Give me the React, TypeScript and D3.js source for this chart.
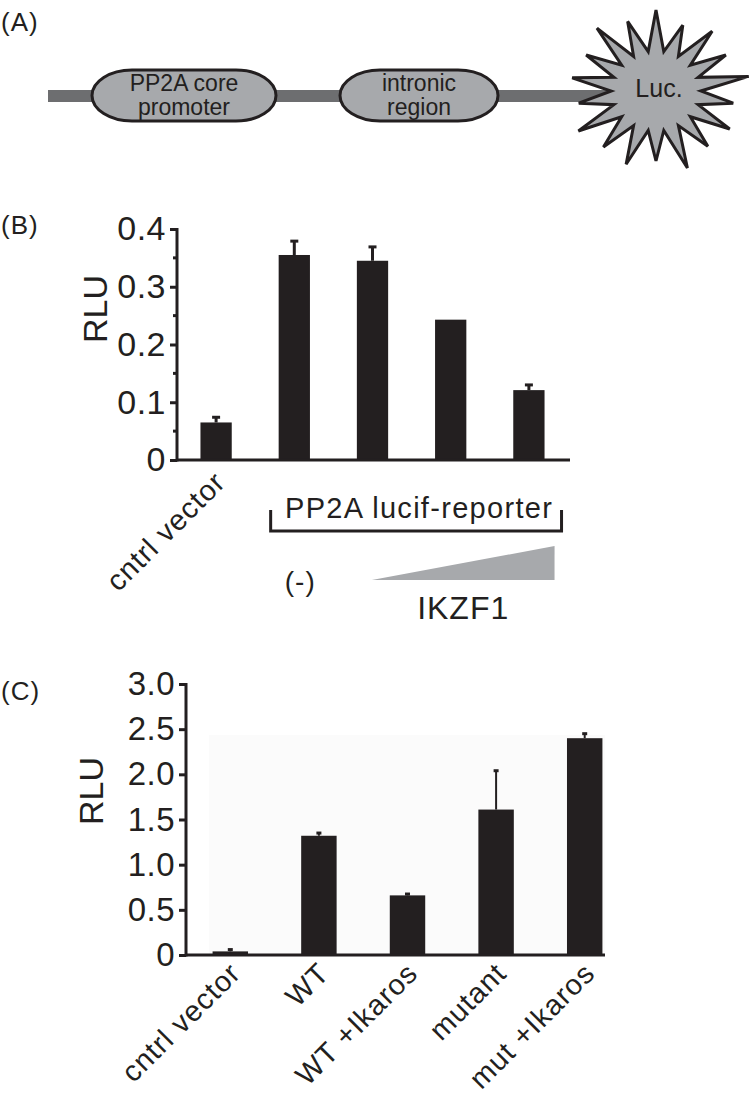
import React, { useEffect, useRef } from 'react';
import * as d3 from 'd3';

// panel B
const categoriesB = ['cntrl vector', '(-)', 'IKZF1 low', 'IKZF1 mid', 'IKZF1 high'];
const valuesB = [0.065, 0.355, 0.345, 0.243, 0.121];
const errorsB = [0.009, 0.024, 0.024, 0, 0.009];
const ticksB = [0, 0.1, 0.2, 0.3, 0.4];
const minorTicksB = [0.05, 0.15, 0.25, 0.35];

// panel C
const categoriesC = ['cntrl vector', 'WT', 'WT +Ikaros', 'mutant', 'mut +Ikaros'];
const valuesC = [0.04, 1.32, 0.66, 1.61, 2.4];
const errorsC = [0.02, 0.03, 0.015, 0.43, 0.05];
const ticksC = [0, 0.5, 1.0, 1.5, 2.0, 2.5, 3.0];

// panel A construct
const constructParts = [
  { lines: ['PP2A core', 'promoter'], cx: 184, w: 184 },
  { lines: ['intronic', 'region'], cx: 419, w: 158 },
];
const starRadii = [81, 70, 78, 72, 84, 70, 76, 72, 82, 70, 78, 73, 80, 70, 76, 72, 82, 74];

const INK = '#231f20';
const GREY = '#a7a9ac';
const FONT = 'Liberation Sans, Arial, sans-serif';

const App = () => {
  const ref = useRef<SVGSVGElement | null>(null);

  useEffect(() => {
    const svg = d3.select(ref.current);
    svg.selectAll('*').remove();

    const label = (x: number, y: number, t: string, size: number, spacing = 0) =>
      svg.append('text').attr('x', x).attr('y', y).attr('font-size', size).attr('font-family', FONT)
        .attr('letter-spacing', spacing).attr('fill', INK).text(t);

    // faint plot background of panel C
    svg.append('rect').attr('x', 209).attr('y', 735).attr('width', 396).attr('height', 220).attr('fill', '#fbfbfb');

    // ---------- (A) ----------
    label(1, 31, '(A)', 26, 1);

    svg.append('rect').attr('x', 48).attr('y', 90).attr('width', 560).attr('height', 12).attr('fill', '#6d6e70');

    constructParts.forEach((p) => {
      svg
        .append('rect')
        .attr('x', p.cx - p.w / 2)
        .attr('y', 70)
        .attr('width', p.w)
        .attr('height', 51)
        .attr('rx', 40)
        .attr('ry', 25.5)
        .attr('fill', GREY)
        .attr('stroke', INK)
        .attr('stroke-width', 3);
      p.lines.forEach((l, i) => {
        label(p.cx, 91 + i * 24, l, 23).attr('text-anchor', 'middle');
      });
    });

    // luciferase star
    const n = starRadii.length;
    const starPts: [number, number][] = [];
    starRadii.forEach((r, i) => {
      const a0 = (i / n) * 2 * Math.PI - Math.PI / 2;
      const a1 = ((i + 0.5) / n) * 2 * Math.PI - Math.PI / 2;
      starPts.push([Math.cos(a0) * r * 1.12, Math.sin(a0) * r]);
      starPts.push([Math.cos(a1) * 40 * 1.12, Math.sin(a1) * 40]);
    });
    svg
      .append('path')
      .attr('transform', 'translate(656,91)')
      .attr('d', d3.line()(starPts) + 'Z')
      .attr('fill', GREY)
      .attr('stroke', INK)
      .attr('stroke-width', 3)
      .attr('stroke-linejoin', 'miter');
    label(659, 97, 'Luc.', 25).attr('text-anchor', 'middle');

    // ---------- bar chart helper ----------
    const drawBars = (cfg: {
      cats: string[];
      vals: number[];
      errs: number[];
      ticks: number[];
      minor: number[];
      x0: number;
      x1: number;
      y0: number;
      y1: number;
      max: number;
      tickFont: number;
      errW: number;
      capW: number;
      baseEnd: number;
    }) => {
      const x = d3.scaleBand<string>().domain(cfg.cats).range([cfg.x0, cfg.x1]).paddingInner(0.6).paddingOuter(0.3);
      const y = d3.scaleLinear().domain([0, cfg.max]).range([cfg.y0, cfg.y1]);
      const g = svg.append('g');

      g.selectAll('rect.bar')
        .data(cfg.vals)
        .join('rect')
        .attr('x', (_, i) => x(cfg.cats[i])!)
        .attr('y', (d) => y(d))
        .attr('width', x.bandwidth())
        .attr('height', (d) => y(0) - y(d))
        .attr('fill', INK);

      cfg.errs.forEach((e, i) => {
        if (!e) return;
        const cx = x(cfg.cats[i])! + x.bandwidth() / 2;
        g.append('line')
          .attr('x1', cx).attr('x2', cx)
          .attr('y1', y(cfg.vals[i])).attr('y2', y(cfg.vals[i] + e))
          .attr('stroke', INK).attr('stroke-width', cfg.errW);
        g.append('line')
          .attr('x1', cx - cfg.capW / 2).attr('x2', cx + cfg.capW / 2)
          .attr('y1', y(cfg.vals[i] + e)).attr('y2', y(cfg.vals[i] + e))
          .attr('stroke', INK).attr('stroke-width', 3);
      });

      const axis = g.append('g').attr('transform', `translate(${cfg.x0},0)`)
        .call(d3.axisLeft(y).tickValues(cfg.ticks).tickSize(7)
          .tickFormat((d) => (+d === 0 ? '0' : d3.format('.1f')(+d))));
      axis.select('.domain').remove();
      axis.selectAll('line').attr('stroke', INK).attr('stroke-width', 3);
      axis.selectAll('text').attr('font-size', cfg.tickFont).attr('font-family', FONT)
        .attr('letter-spacing', 0.5).attr('fill', INK).attr('dx', -1);
      cfg.minor.forEach((m) => {
        g.append('line').attr('x1', cfg.x0 - 4).attr('x2', cfg.x0).attr('y1', y(m)).attr('y2', y(m))
          .attr('stroke', INK).attr('stroke-width', 3);
      });
      g.append('line').attr('x1', cfg.x0).attr('x2', cfg.x0).attr('y1', y(cfg.max) - 1).attr('y2', y(0) + 1.5)
        .attr('stroke', INK).attr('stroke-width', 3);
      g.append('line').attr('x1', cfg.x0).attr('x2', cfg.baseEnd).attr('y1', y(0)).attr('y2', y(0))
        .attr('stroke', INK).attr('stroke-width', 3);
      return { x, y };
    };

    // ---------- (B) ----------
    label(1, 234, '(B)', 26, 1);
    const b = drawBars({
      cats: categoriesB, vals: valuesB, errs: errorsB, ticks: ticksB, minor: minorTicksB,
      x0: 177, x1: 568, y0: 460, y1: 229, max: 0.4, tickFont: 34, errW: 3, capW: 8, baseEnd: 570,
    });
    svg.append('text')
      .attr('transform', 'translate(107,309) rotate(-90)')
      .attr('text-anchor', 'middle').attr('font-size', 34).attr('font-family', FONT).attr('fill', INK).text('RLU');
    const bcx0 = b.x(categoriesB[0])! + b.x.bandwidth() / 2;
    svg.append('text')
      .attr('transform', `translate(${bcx0 + 11},484) rotate(-45)`)
      .attr('text-anchor', 'end').attr('font-size', 29).attr('letter-spacing', 1)
      .attr('font-family', FONT).attr('fill', INK).text(categoriesB[0]);

    const brL = b.x(categoriesB[1])! - 8;
    const brR = b.x(categoriesB[4])! + b.x.bandwidth() + 17;
    svg.append('path').attr('d', `M${brL},510V531H${brR}V510`).attr('fill', 'none').attr('stroke', INK).attr('stroke-width', 3);
    label((brL + brR) / 2 + 3, 518, 'PP2A lucif-reporter', 29, 1.3).attr('text-anchor', 'middle');
    label(b.x(categoriesB[1])! + b.x.bandwidth() / 2 + 6, 591, '(-)', 28, 1).attr('text-anchor', 'middle');
    const wL = b.x(categoriesB[2])! + 15;
    const wR = b.x(categoriesB[4])! + b.x.bandwidth() + 10;
    svg.append('path').attr('d', `M${wL},580L${wR},580L${wR},546Z`).attr('fill', GREY);
    label((wL + wR) / 2, 619, 'IKZF1', 32, 1).attr('text-anchor', 'middle');

    // ---------- (C) ----------
    label(1, 700, '(C)', 26, 1);
    const c = drawBars({
      cats: categoriesC, vals: valuesC, errs: errorsC, ticks: ticksC, minor: [],
      x0: 186, x1: 629, y0: 955, y1: 684, max: 3.0, tickFont: 33, errW: 2, capW: 5, baseEnd: 605,
    });
    svg.append('text')
      .attr('transform', 'translate(103,791) rotate(-90)')
      .attr('text-anchor', 'middle').attr('font-size', 34).attr('font-family', FONT).attr('fill', INK).text('RLU');
    categoriesC.forEach((cat) => {
      const cx = c.x(cat)! + c.x.bandwidth() / 2;
      svg.append('text')
        .attr('transform', `translate(${cx + 12},975) rotate(-45)`)
        .attr('text-anchor', 'end').attr('font-size', 29).attr('letter-spacing', 1)
        .attr('font-family', FONT).attr('fill', INK).text(cat);
    });
  }, []);

  return (
    <svg
      ref={ref}
      width={750}
      height={1102}
      style={{ position: 'absolute', left: 0, top: 0, background: '#fff' }}
    />
  );
};

export default App;
